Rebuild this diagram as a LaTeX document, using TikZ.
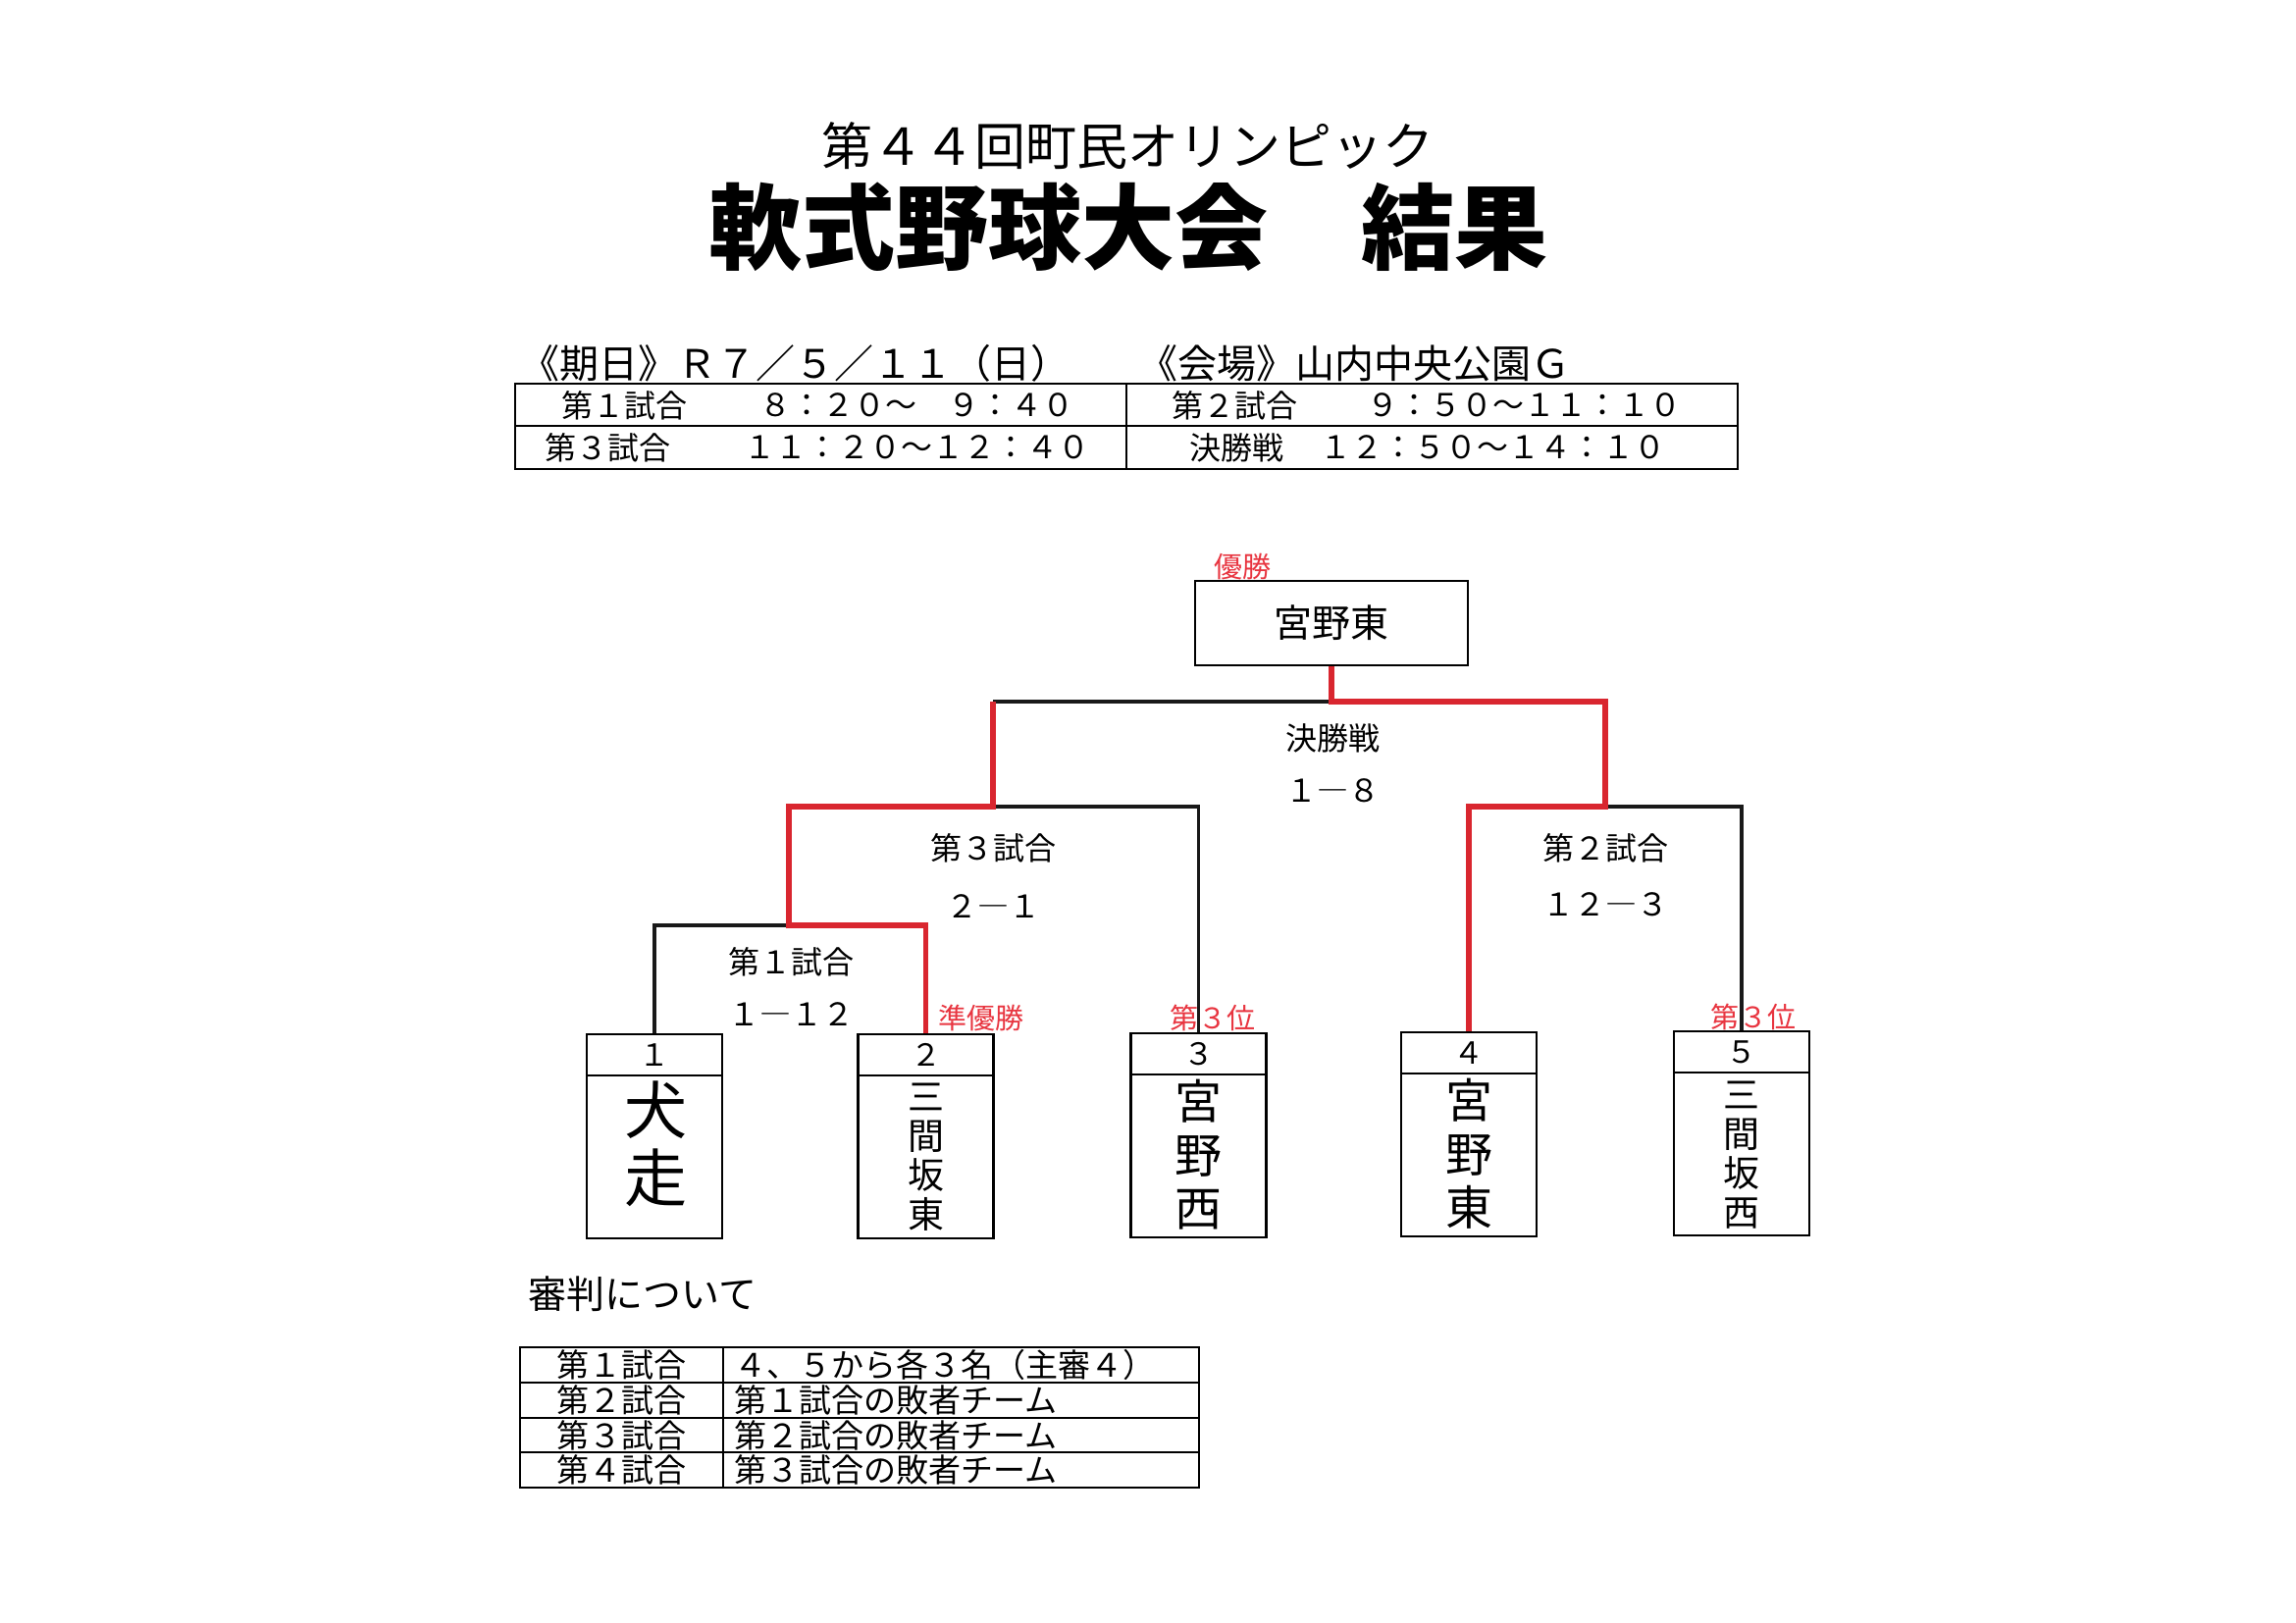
\documentclass[tikz,border=0pt]{standalone}
\usepackage{fontspec}
\setmainfont{Noto Sans CJK JP}
\newcommand\fsz[2]{\fontsize{#1}{#2}\selectfont}
\definecolor{winred}{HTML}{D9262F}
\definecolor{labred}{HTML}{E83540}
\begin{document}
\begin{tikzpicture}[x=1pt,y=-1pt,
  bline/.style={line width=3.8, black!90, line join=miter},
  win/.style={line width=5.5, winred, line join=miter},
  tline/.style={line width=2.2, black},
  tout/.style={line width=2.8, black},
  numbox/.style={draw, line width=2.4, minimum width=138, minimum height=42, inner sep=0, font=\fsz{31}{31}},
  namebox/.style={draw, line width=2.4, minimum width=138, minimum height=166, inner sep=0},
  tname/.style={inner sep=0, align=center},
  lab/.style={inner sep=0, font=\fsz{32}{32}},
  tcell/.style={inner sep=0, anchor=west, font=\fsz{32}{32}},
  bcell/.style={inner sep=0, font=\fsz{33}{33}},
  redlab/.style={inner sep=0, text=labred, font=\fsz{29}{29}}]
\useasboundingbox (0,0) rectangle (2340,1654);
\fill[white] (0,0) rectangle (2340,1654);

% Title
\node[inner sep=0, font=\fsz{52}{52}] (title1) at (1149,149) {第４４回町民オリンピック};
\node[inner sep=0, font=\bfseries\fsz{95}{95}] (title2) at (1150,231) {軟式野球大会　結果};

% Header
\node[inner sep=0, anchor=west, font=\fsz{40}{40}] (date) at (530,370) {《期日》Ｒ７／５／１１（日）};
\node[inner sep=0, anchor=west, font=\fsz{40}{40}] (venue) at (1160,370) {《会場》山内中央公園Ｇ};

% Schedule table
\draw[tout] (525,391) rectangle (1771,478);
\draw[tline] (525,434) -- (1771,434);
\draw[tline] (1148,391) -- (1148,478);
\node[tcell] (s1a) at (572,413) {第１試合};
\node[tcell] (s1b) at (774,413) {８：２０～　９：４０};
\node[tcell] (s2a) at (1194,413) {第２試合};
\node[tcell] (s2b) at (1393,413) {９：５０～１１：１０};
\node[tcell] (s3a) at (555,456) {第３試合};
\node[tcell] (s3b) at (758,456) {１１：２０～１２：４０};
\node[tcell] (s4a) at (1212,456) {決勝戦};
\node[tcell] (s4b) at (1345,456) {１２：５０～１４：１０};

% Champion
\node[draw, line width=2.4, minimum width=278, minimum height=86, inner sep=0, font=\fsz{39}{39}] (champ) at (1357,635) {宮野東};
\node[redlab] (yusho) at (1266,578) {優勝};

% Team boxes
\node[numbox] (n1) at (667,1075) {１};
\node[namebox] (b1) at (667,1179) {};
\node[tname, font=\fsz{64}{69}] (t1) at (668,1166) {犬\\走};
\node[numbox] (n2) at (943.5,1075) {２};
\node[namebox] (b2) at (943.5,1179) {};
\node[tname, font=\fsz{37}{40}] (t2) at (943.5,1179) {三\\間\\坂\\東};
\node[numbox] (n3) at (1221.5,1074) {３};
\node[namebox] (b3) at (1221.5,1178) {};
\node[tname, font=\fsz{48}{54.5}] (t3) at (1221.5,1177) {宮\\野\\西};
\node[numbox] (n4) at (1497,1073) {４};
\node[namebox] (b4) at (1497,1177) {};
\node[tname, font=\fsz{48}{54.5}] (t4) at (1497,1176) {宮\\野\\東};
\node[numbox] (n5) at (1775,1072) {５};
\node[namebox] (b5) at (1775,1176) {};
\node[tname, font=\fsz{37}{40}] (t5) at (1775,1177) {三\\間\\坂\\西};

% Bracket junctions
\coordinate (m1) at (804,943);
\coordinate (m1t) at (804,822);
\coordinate (m3) at (1012,822);
\coordinate (m3t) at (1012,715);
\coordinate (m2) at (1636,822);
\coordinate (m2t) at (1636,715);

% black lines
\draw[bline] (n1.north) |- (m1);
\draw[bline] (n3.north) |- (m3);
\draw[bline] (m3t) -- (champ.south |- m3t);
\draw[bline] (n5.north) |- (m2);
% red (winner) lines
\draw[win] (n2.north) |- (m1) -- (m1t) -- (m3) -- (m3t);
\draw[win] (champ.south) |- (m2t) -- (m2) -- (n4.north |- m2) -- (n4.north);

% Bracket labels
\node[lab] (lf1) at (1358,752) {決勝戦};
\node[lab] (lf2) at (1358,806) {１―８};
\node[lab] (l31) at (1012,864) {第３試合};
\node[lab] (l32) at (1012,924) {２―１};
\node[lab] (l21) at (1636,864) {第２試合};
\node[lab] (l22) at (1636,922) {１２―３};
\node[lab] (l11) at (806,980) {第１試合};
\node[lab] (l12) at (806,1034) {１―１２};

\node[redlab] (jun) at (1000,1037) {準優勝};
\node[redlab] (third1) at (1236,1037) {第３位};
\node[redlab] (third2) at (1787,1036) {第３位};

% Umpires
\node[inner sep=0, anchor=west, font=\fsz{39}{39}] (ump) at (538,1319) {審判について};
\draw[tout] (530,1373) rectangle (1222,1516);
\draw[tline] (737,1373) -- (737,1516);
\draw[tline] (530,1409) -- (1222,1409);
\draw[tline] (530,1445) -- (1222,1445);
\draw[tline] (530,1480) -- (1222,1480);
\node[bcell] (u1a) at (633,1391) {第１試合};
\node[bcell] (u2a) at (633,1427) {第２試合};
\node[bcell] (u3a) at (633,1462.5) {第３試合};
\node[bcell] (u4a) at (633,1498) {第４試合};
\node[bcell, anchor=west] (u1b) at (748,1391) {４、５から各３名（主審４）};
\node[bcell, anchor=west] (u2b) at (748,1427) {第１試合の敗者チーム};
\node[bcell, anchor=west] (u3b) at (748,1462.5) {第２試合の敗者チーム};
\node[bcell, anchor=west] (u4b) at (748,1498) {第３試合の敗者チーム};
\end{tikzpicture}
\end{document}
